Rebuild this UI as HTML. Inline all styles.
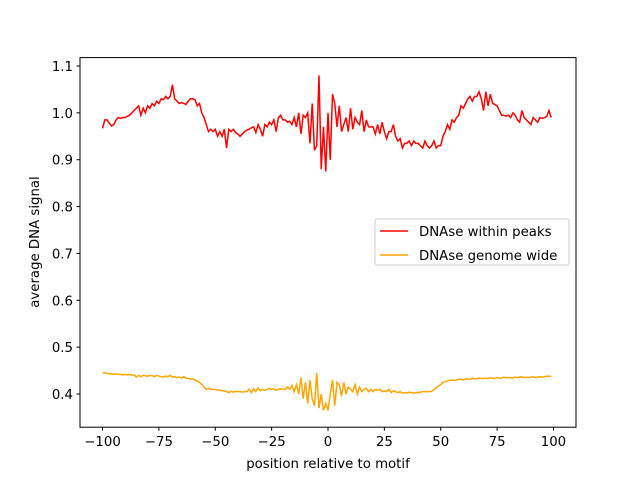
<!DOCTYPE html>
<html><head><meta charset="utf-8"><style>
body{margin:0;background:#fff}
svg text{font-family:"DejaVu Sans","Liberation Sans",sans-serif;font-size:13.3px;fill:#000}
</style></head><body>
<svg id="chart" width="640" height="480" xmlns="http://www.w3.org/2000/svg">
<rect x="0" y="0" width="640" height="480" fill="#fff"/>
<g id="plot"></g>
<rect x="80" y="57.6" width="496" height="369.6" fill="none" stroke="#000" stroke-width="1"/>
<g id="xticks"></g>
<g id="yticks"></g>
<text x="328" y="468" text-anchor="middle">position relative to motif</text>
<text transform="translate(39,242) rotate(-90)" text-anchor="middle">average DNA signal</text>
<g>
<rect x="375" y="219" width="194" height="46" rx="2" fill="#fff" fill-opacity="0.8" stroke="#ccc"/>
<line x1="380" y1="231" x2="408" y2="231" stroke="red" stroke-width="1.5"/>
<text x="419" y="236">DNAse within peaks</text>
<line x1="380" y1="255" x2="408" y2="255" stroke="orange" stroke-width="1.5"/>
<text x="419" y="260">DNAse genome wide</text>
</g>
</svg>
<script>
const xStart = -100;
const peaks = [.967,.985,.985,.978,.972,.975,.985,.99,.988,.99,
.99,.993,.995,1.0,1.005,1.01,1.015,.995,1.01,1.0,
1.015,1.01,1.02,1.015,1.025,1.02,1.03,1.028,1.035,1.03,
1.035,1.06,1.03,1.025,1.02,1.022,1.02,1.018,1.025,1.03,
1.03,1.028,1.015,1.02,1.0,.99,.975,.96,.965,.96,
.965,.95,.96,.95,.965,.925,.965,.96,.965,.958,
.955,.95,.955,.96,.963,.965,.968,.97,.958,.975,
.965,.95,.975,.97,.98,.975,.985,.96,.99,.995,
.985,.985,.98,.982,.975,.99,.97,1.0,.955,.995,
.99,1.0,.935,1.02,.92,.93,1.08,.88,.97,.875,
1.0,.9,1.04,1.02,.97,1.015,.96,.975,.99,.96,
1.01,.965,.99,.98,.975,1.005,.96,.985,.97,.97,
.97,.955,.975,.955,.98,.96,.945,.96,.96,.975,
.95,.94,.945,.925,.935,.935,.94,.93,.94,.935,
.935,.93,.925,.94,.93,.925,.93,.94,.925,.93,
.93,.95,.96,.975,.965,.985,.98,.99,.995,1.015,
1.01,1.02,1.03,1.035,1.025,1.035,1.035,1.045,1.03,1.005,
1.045,1.015,1.04,1.02,1.018,1.015,1.005,.995,.995,.993,
.995,.99,1.0,.995,.985,.98,1.005,.99,.985,.98,
.975,.99,.985,.98,.99,.988,.99,.992,1.005,.99];
const genome = [.445,.445,.444,.443,.443,.442,.443,.442,.442,.441,
.442,.441,.442,.44,.441,.436,.44,.437,.44,.439,
.438,.44,.439,.437,.44,.438,.437,.436,.438,.437,
.44,.436,.437,.435,.436,.434,.437,.434,.433,.432,
.432,.43,.428,.425,.42,.415,.41,.412,.41,.41,
.41,.409,.408,.407,.407,.405,.403,.406,.404,.406,
.405,.405,.404,.405,.405,.41,.403,.411,.405,.413,
.407,.41,.408,.41,.412,.41,.411,.408,.41,.411,
.41,.41,.415,.41,.418,.405,.42,.4,.435,.39,
.425,.38,.43,.39,.375,.445,.37,.4,.365,.38,
.365,.4,.43,.375,.425,.42,.395,.425,.4,.415,
.41,.405,.42,.4,.415,.405,.41,.412,.405,.41,
.405,.41,.408,.41,.405,.407,.405,.41,.403,.407,
.405,.403,.405,.402,.403,.402,.404,.403,.402,.403,
.403,.404,.405,.405,.405,.405,.406,.41,.413,.417,
.42,.425,.426,.428,.429,.43,.429,.43,.431,.432,
.43,.432,.432,.431,.434,.432,.433,.434,.433,.433,
.434,.433,.435,.434,.433,.435,.434,.434,.436,.435,
.435,.435,.434,.436,.435,.436,.437,.435,.436,.435,
.436,.437,.435,.436,.437,.436,.437,.438,.438,.438];
const xTicks = [-100,-75,-50,-25,0,25,50,75,100];
const yTicks = [0.4,0.5,0.6,0.7,0.8,0.9,1.0,1.1];

const NS = "http://www.w3.org/2000/svg";
const X = v => 80 + (v + 110) / 220 * 496;
const Y = v => 66 + (1.1 - v) * 468.6;
const plot = document.getElementById('plot');
function series(vals, color, name) {
  const p = document.createElementNS(NS, 'path');
  p.setAttribute('d', vals.map((v, i) => (i ? 'L' : 'M') + X(xStart + i).toFixed(2) + ',' + Y(v).toFixed(2)).join(''));
  p.setAttribute('fill', 'none');
  p.setAttribute('stroke', color);
  p.setAttribute('stroke-width', '1.5');
  
  
  plot.appendChild(p);
}
series(peaks, 'red', 'line-dnase-within-peaks');
series(genome, 'orange', 'line-dnase-genome-wide');
const xg = document.getElementById('xticks');
xTicks.forEach(t => {
  const l = document.createElementNS(NS, 'line');
  l.setAttribute('x1', X(t)); l.setAttribute('x2', X(t));
  l.setAttribute('y1', 427.2); l.setAttribute('y2', 430.7);
  l.setAttribute('stroke', '#000');
  
  
  xg.appendChild(l);
  const tx = document.createElementNS(NS, 'text');
  tx.setAttribute('x', X(t)); tx.setAttribute('y', 446);
  tx.setAttribute('text-anchor', 'middle');
  tx.textContent = t < 0 ? '\u2212' + (-t) : String(t);
  
  
  xg.appendChild(tx);
});
const yg = document.getElementById('yticks');
yTicks.forEach(t => {
  const l = document.createElementNS(NS, 'line');
  l.setAttribute('x1', 76.5); l.setAttribute('x2', 80);
  l.setAttribute('y1', Y(t)); l.setAttribute('y2', Y(t));
  l.setAttribute('stroke', '#000');
  
  
  yg.appendChild(l);
  const tx = document.createElementNS(NS, 'text');
  tx.setAttribute('x', 73); tx.setAttribute('y', Y(t) + 5);
  tx.setAttribute('text-anchor', 'end');
  tx.textContent = t.toFixed(1);
  
  
  yg.appendChild(tx);
});
</script>
</body></html>
